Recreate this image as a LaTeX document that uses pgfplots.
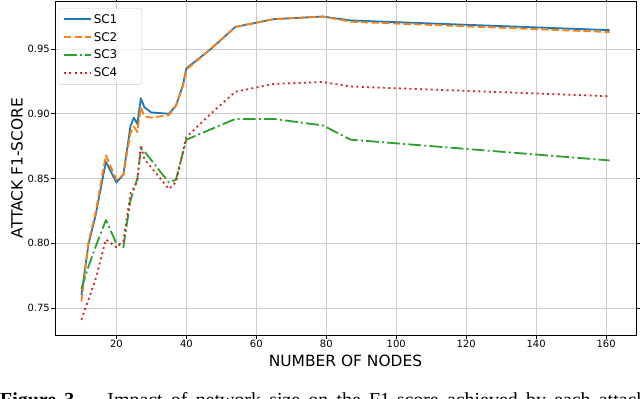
\documentclass[border=0pt]{standalone}
\usepackage{pgfplots}
\pgfplotsset{compat=1.18}
\usepackage{fontspec}
\setmainfont{DejaVu Sans}
\newfontfamily\capfont{Liberation Serif}

\definecolor{c0}{HTML}{1F77B4}
\definecolor{c1}{HTML}{FF7F0E}
\definecolor{c2}{HTML}{2CA02C}
\definecolor{c3}{HTML}{D62728}

\newcommand{\labfont}{\fontsize{15.5}{18}\selectfont}
\newcommand{\legfont}{\fontsize{12}{14}\selectfont}
\pgfplotsset{longleg/.style={legend image code/.code={\draw[##1] (0bp,0bp) -- (27bp,0bp);}}}

\begin{document}
\begin{tikzpicture}
\begin{axis}[
    at={(0,0)}, anchor=south west,
    scale only axis,
    width=581bp, height=334bp,
    xmin=2.45, xmax=168.55,
    ymin=0.7293, ymax=0.9870,
    xtick={20,40,...,160},
    ytick={0.75,0.80,0.85,0.90,0.95},
    yticklabel style={/pgf/number format/fixed, /pgf/number format/precision=2, /pgf/number format/fixed zerofill},
    /pgf/number format/assume math mode=true,
    tick label style={font=\fontsize{10}{12}\selectfont, inner sep=1.5bp},
    tick align=outside,
    major tick length=3.5bp,
    tick style={black, line width=0.8bp},
    axis line style={line width=0.8bp},
    grid=major,
    grid style={color=black!20, line width=0.8bp},
    xlabel={\labfont NUMBER OF NODES},
    ylabel={\labfont ATTACK F1-SCORE},
    every axis x label/.style={at={(axis description cs:0.5,-0.0763)}, anchor=center},
    every axis y label/.style={at={(axis description cs:-0.0654,0.5)}, anchor=center, rotate=90},
    legend style={at={(axis description cs:0.0057,0.979)}, anchor=north west,
        draw=black!20, rounded corners=2.5bp, fill=white, fill opacity=0.8, text opacity=1,
        row sep=3.6bp, inner xsep=4.5bp, inner ysep=4bp},
    legend cell align=left,
    every axis plot/.append style={line width=1.8bp, line join=round},
]
\addplot[c0, solid, longleg] coordinates {
(10,0.760) (12,0.799) (14,0.821) (17,0.863) (20,0.847) (22,0.853) (24,0.890)
(25,0.897) (26,0.892) (27,0.912) (28,0.905) (30,0.901) (35,0.900) (37,0.906)
(39,0.922) (40,0.935) (47,0.950) (54,0.967) (65,0.973) (79,0.975) (87,0.972)
(161,0.9645)};
\addplot[c1, dash pattern=on 7.4bp off 3.2bp, longleg] coordinates {
(10,0.755) (12,0.801) (14,0.823) (17,0.868) (20,0.849) (22,0.853) (24,0.885)
(25,0.890) (26,0.886) (27,0.905) (28,0.898) (30,0.897) (35,0.899) (37,0.906)
(39,0.921) (40,0.934) (47,0.950) (54,0.967) (65,0.973) (79,0.975) (87,0.971)
(161,0.963)};
\addplot[c2, dash pattern=on 12.8bp off 3.2bp on 2bp off 3.2bp, longleg] coordinates {
(10,0.765) (12,0.782) (14,0.797) (17,0.818) (20,0.800) (22,0.797) (24,0.833)
(26,0.850) (27,0.873) (28,0.871) (35,0.847) (37,0.849) (40,0.880) (54,0.896)
(65,0.896) (79,0.891) (87,0.880) (161,0.864)};
\addplot[c3, dash pattern=on 2bp off 3.3bp, longleg] coordinates {
(10,0.741) (14,0.772) (17,0.803) (20,0.797) (22,0.802) (24,0.838) (26,0.848)
(27,0.876) (28,0.865) (35,0.842) (37,0.847) (40,0.882) (47,0.900) (54,0.917)
(65,0.923) (79,0.9245) (87,0.921) (161,0.9135)};
\legend{\legfont SC1\hspace*{18bp}, \legfont SC2\hspace*{18bp}, \legfont SC3\hspace*{18bp}, \legfont SC4\hspace*{18bp}}
\end{axis}
\node[anchor=base west, inner sep=0pt, font=\capfont\fontsize{20}{24}\selectfont]
  at (-55bp,-71bp) {\spaceskip=8.2bp\relax\textbf{Figure 3.} – Impact of network size on the F1-score achieved by each attack};
\pgfresetboundingbox
\useasboundingbox (-55bp,-64bp) rectangle (585bp,335bp);
\end{tikzpicture}
\end{document}
